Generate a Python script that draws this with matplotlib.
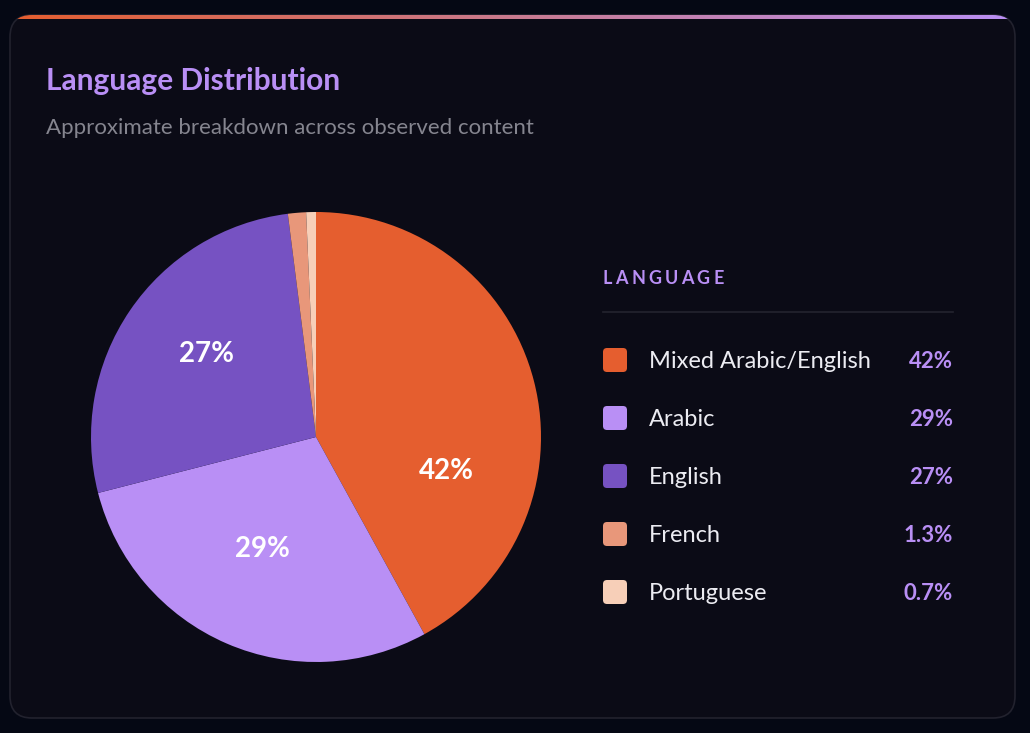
import numpy as np
import matplotlib
matplotlib.use("Agg")
import matplotlib.pyplot as plt
from matplotlib.patches import FancyBboxPatch

# ---------------- DATA ----------------
languages = ["Mixed Arabic/English", "Arabic", "English", "French", "Portuguese"]
shares = [42, 29, 27, 1.3, 0.7]
share_labels = ["42%", "29%", "27%", "1.3%", "0.7%"]
colors = ["#e55e2f", "#b98ff5", "#7652c2", "#e8977a", "#f7cfb8"]

title = "Language Distribution"
subtitle = "Approximate breakdown across observed content"
legend_title = "LANGUAGE"

# ---------------- STYLE ----------------
W, H = 1030, 733
page_bg = "#050814"
card_bg = "#0b0b16"
purple = "#b98ff5"
plt.rcParams["font.family"] = ["Lato", "DejaVu Sans"]

fig = plt.figure(figsize=(W / 100, H / 100), dpi=100, facecolor=page_bg)
ax = fig.add_axes([0, 0, 1, 1])
ax.set_facecolor(page_bg)


def py(y):
    # pixel row (from top) -> data y
    return H - y


# ---------------- CARD ----------------
card = FancyBboxPatch((10, py(718)), 1005, 703,
                      boxstyle="round,pad=0,rounding_size=22",
                      facecolor=card_bg, edgecolor="#22222e", linewidth=1.2, zorder=1)
ax.add_patch(card)

# gradient strip on top edge
grad = np.linspace(0, 1, 256).reshape(1, -1)
cmap = matplotlib.colors.LinearSegmentedColormap.from_list("top", ["#e55e2f", "#c97a8f", "#b98ff5"])
strip = ax.imshow(grad, cmap=cmap, extent=(10, 1015, py(19), py(14)), aspect="auto", zorder=2)
strip.set_clip_path(card)

# ---------------- TEXTS ----------------
ax.text(46, py(81), title, color=purple, fontsize=21.5, fontweight="bold", va="center", ha="left", zorder=3)
ax.text(46, py(128), subtitle, color="#85858f", fontsize=16, va="center", ha="left", zorder=3)

# ---------------- PIE ----------------
wedges, _, autotexts = ax.pie(
    shares, colors=colors, center=(316, py(437)), radius=225,
    startangle=90, counterclock=False,
    autopct=lambda p: f"{p:.0f}%" if p > 5 else "",
    pctdistance=0.6, frame=True,
    wedgeprops=dict(linewidth=0),
    textprops=dict(color="white", fontsize=20, fontweight="bold"),
)
for w in wedges:
    w.set_zorder(3)
for t in autotexts:
    t.set_zorder(4)
# the reference places the big slice's label a bit lower than its mid-angle
autotexts[0].set_position((446, py(471)))
autotexts[1].set_position((262, py(549)))
autotexts[2].set_position((206, py(354)))

# ---------------- LEGEND ----------------
# letter-spaced header
renderer = fig.canvas.get_renderer()
x = 603
for ch in legend_title:
    t = ax.text(x, py(279), ch, color=purple, fontsize=13, fontweight="bold",
                va="center", ha="left", zorder=3)
    bb = t.get_window_extent(renderer)
    x += bb.width + 3.2

ax.plot([603, 953], [py(312), py(312)], color="#24242f", linewidth=1.2, zorder=3)

row_y = [360, 418, 476, 534, 592]
for name, lab, c, yy in zip(languages, share_labels, colors, row_y):
    sq = FancyBboxPatch((603, py(yy) - 12), 24, 24,
                        boxstyle="round,pad=0,rounding_size=4",
                        facecolor=c, edgecolor="none", zorder=3)
    ax.add_patch(sq)
    ax.text(649, py(yy + 2), name, color="#ececf2", fontsize=17, va="center", ha="left", zorder=3)
    ax.text(953, py(yy + 2), lab, color=purple, fontsize=16, fontweight="bold", va="center", ha="right", zorder=3)

ax.set_xlim(0, W)
ax.set_ylim(0, H)
ax.set_aspect("auto")
ax.axis("off")

fig.savefig("out.png", dpi=100, facecolor=page_bg)
